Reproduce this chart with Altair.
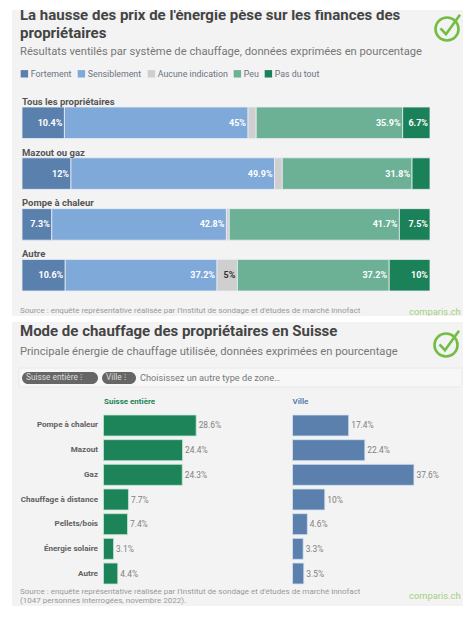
import altair as alt
import pandas as pd

# ---------- data ----------
rows = ["Tous les propriétaires", "Mazout ou gaz", "Pompe à chaleur", "Autre"]
answers = ["Fortement", "Sensiblement", "Aucune indication", "Peu", "Pas du tout"]
fortement = [10.4, 12, 7.3, 10.6]
sensiblement = [45, 49.9, 42.8, 37.2]
aucune = [2.0, 1.9, 0.7, 5]
peu = [35.9, 31.8, 41.7, 37.2]
pas_du_tout = [6.7, 4.4, 7.5, 10]
answer_colors = ["#5a80ad", "#7fa9d9", "#cfcfcf", "#6cb196", "#1b8158"]

types = ["Pompe à chaleur", "Mazout", "Gaz", "Chauffage à distance", "Pellets/bois", "Énergie solaire", "Autre"]
suisse = [28.6, 24.4, 24.3, 7.7, 7.4, 3.1, 4.4]
ville = [17.4, 22.4, 37.6, 10, 4.6, 3.3, 3.5]

FONT = "Roboto"
PANEL = "#f3f3f3"

# ---------- top data ----------
recs = []
for i, r in enumerate(rows):
    cum = 0
    vals = [fortement[i], sensiblement[i], aucune[i], peu[i], pas_du_tout[i]]
    for a, v in zip(answers, vals):
        lab = f"{v:g}%" if v >= 5 else ""
        recs.append(dict(row=r, answer=a, start=cum, end=cum + v, value=v, label=lab,
                         dark=a == "Aucune indication"))
        cum += v
top_df = pd.DataFrame(recs)
row_df = pd.DataFrame({"row": rows})


def note(text, x, y, size, color, weight="normal", align="left", clip=True):
    return alt.Chart(pd.DataFrame({"t": [text]})).mark_text(
        font=FONT, fontSize=size, color=color, fontWeight=weight, align=align,
        baseline="middle", clip=clip
    ).encode(text="t:N", x=alt.value(x), y=alt.value(y))


def logo(x, y):
    one = pd.DataFrame({"a": [0]})
    ring = alt.Chart(one).mark_point(shape="circle", size=530, filled=False, color="#74bd45",
                                     strokeWidth=2.6, opacity=1, clip=True).encode(x=alt.value(x), y=alt.value(y))
    tick = alt.Chart(one).mark_point(shape="M-0.5,-0.05 L-0.08,0.4 L1.0,-1.1", size=676, filled=False,
                                     color="#74bd45", strokeWidth=2.6, opacity=1, clip=True).encode(x=alt.value(x), y=alt.value(y))
    return ring + tick


xs = alt.Scale(domain=[0, 100], range=[10, 418])
ys = alt.Scale(domain=rows, range=[97, 281], paddingInner=0.379, paddingOuter=0)

bars = alt.Chart(top_df).mark_bar(stroke="#e8eef5", strokeWidth=0.8).encode(
    x=alt.X("start:Q", scale=xs, axis=None),
    x2="end:Q",
    y=alt.Y("row:N", scale=ys, axis=None),
    color=alt.Color("answer:N", scale=alt.Scale(domain=answers, range=answer_colors),
                    legend=alt.Legend(title=None, orient="none", legendX=8, legendY=59, direction="horizontal",
                                      columns=5, symbolType="square", symbolSize=55, symbolStrokeWidth=0,
                                      symbolOpacity=1, labelFont=FONT, labelFontSize=8.8, labelColor="#6b7280",
                                      columnPadding=5, symbolOffset=0, labelOffset=2, padding=0)),
)
seg_labels = alt.Chart(top_df[top_df.label != ""]).mark_text(
    font=FONT, fontSize=9, fontWeight="bold", align="right", baseline="middle", dx=-2
).encode(
    x=alt.X("end:Q", scale=xs, axis=None),
    y=alt.Y("row:N", scale=ys, axis=None),
    text="label:N",
    color=alt.condition(alt.datum.dark, alt.value("#333333"), alt.value("#ffffff")),
)
row_labels = alt.Chart(row_df).mark_text(
    font=FONT, fontSize=9.5, fontWeight="bold", align="left", baseline="middle", dy=-21, color="#555555"
).encode(x=alt.value(10), y=alt.Y("row:N", scale=ys, axis=None), text="row:N")

top = alt.layer(
    bars, seg_labels, row_labels,
    note("La hausse des prix de l'énergie pèse sur les finances des", 8, 5, 15, "#444444", "bold"),
    note("propriétaires", 8, 23, 15, "#444444", "bold"),
    note("Résultats ventilés par système de chauffage, données exprimées en pourcentage", 8, 42, 11.2, "#777777"),
    note("Source : enquête représentative réalisée par l'Institut de sondage et d'études de marché innofact", 8, 301, 8, "#999999"),
    note("comparis.ch", 397, 302, 9.4, "#a5d07f"),
    logo(435, 19),
).properties(width=451, height=306)

# ---------- bottom ----------
bot_df = pd.DataFrame({"type": types, "suisse": suisse, "ville": ville})
ys2 = alt.Scale(domain=types, range=[93, 262], paddingInner=0.15, paddingOuter=0)
xg = alt.Scale(domain=[0, 40], range=[91.5, 221.1])
xb = alt.Scale(domain=[0, 40], range=[280.5, 409.7])


def series(col, scale, color, halo):
    base = alt.Chart(bot_df).transform_calculate(lab=f"datum.{col} + '%'")
    b = base.mark_bar(color=color, stroke=halo, strokeWidth=0.8).encode(
        x=alt.X(f"{col}:Q", scale=scale, axis=None),
        y=alt.Y("type:N", scale=ys2, axis=None),
    )
    t = base.mark_text(font=FONT, fontSize=8.4, color="#808080", align="left", baseline="middle", dx=2.5).encode(
        x=alt.X(f"{col}:Q", scale=scale, axis=None),
        y=alt.Y("type:N", scale=ys2, axis=None),
        text="lab:N",
    )
    return b + t


def pill(x0, x1, y0, y1, fill, stroke=None, radius=6):
    kw = dict(stroke=stroke, strokeWidth=0.8) if stroke else {}
    return alt.Chart(pd.DataFrame({"a": [0]})).mark_rect(color=fill, cornerRadius=radius, **kw).encode(
        x=alt.value(x0), x2=alt.value(x1), y=alt.value(y0), y2=alt.value(y1))


cat_labels = alt.Chart(bot_df).mark_text(
    font=FONT, fontSize=8.1, fontWeight="bold", color="#606060", align="right", baseline="middle"
).encode(x=alt.value(86), y=alt.Y("type:N", scale=ys2, axis=None), text="type:N")

bottom = alt.layer(
    pill(7, 450, 46, 65, "#f7f7f7", "#e6e6e6", 1),
    pill(10, 86, 50, 62, "#666666"),
    pill(90, 124, 50, 62, "#666666"),
    note("Suisse entière  ⁝", 14, 56, 8.3, "#dddddd"),
    note("Ville  ⁝", 94, 56, 8.3, "#dddddd"),
    note("Choisissez un autre type de zone…", 128, 56, 9.2, "#777777"),
    note("Suisse entière", 92, 80, 8, "#1f8459", "bold"),
    note("Ville", 280.5, 80, 8, "#5b80ad", "bold"),
    cat_labels,
    series("suisse", xg, "#1d8358", "#c3e6d6"),
    series("ville", xb, "#5b80ad", "#d5e2ef"),
    note("Mode de chauffage des propriétaires en Suisse", 8, 9, 15, "#444444", "bold"),
    note("Principale énergie de chauffage utilisée, données exprimées en pourcentage", 8, 30, 11.2, "#777777"),
    note("Source : enquête représentative réalisée par l'Institut de sondage et d'études de marché innofact", 8, 270, 8, "#999999"),
    note("(1047 personnes interrogées, novembre 2022).", 8, 279, 8, "#999999"),
    note("comparis.ch", 397, 274, 9.4, "#a5d07f"),
    logo(434, 23),
).resolve_scale(x="independent").properties(width=451, height=284)

chart = alt.vconcat(top, bottom, spacing=6).properties(
    padding={"left": 4, "top": 2, "right": 0, "bottom": 0},
    background="#ffffff",
).configure_view(fill=PANEL, stroke=None)

chart.save("out.html", embed_options={"renderer": "svg", "actions": False})
